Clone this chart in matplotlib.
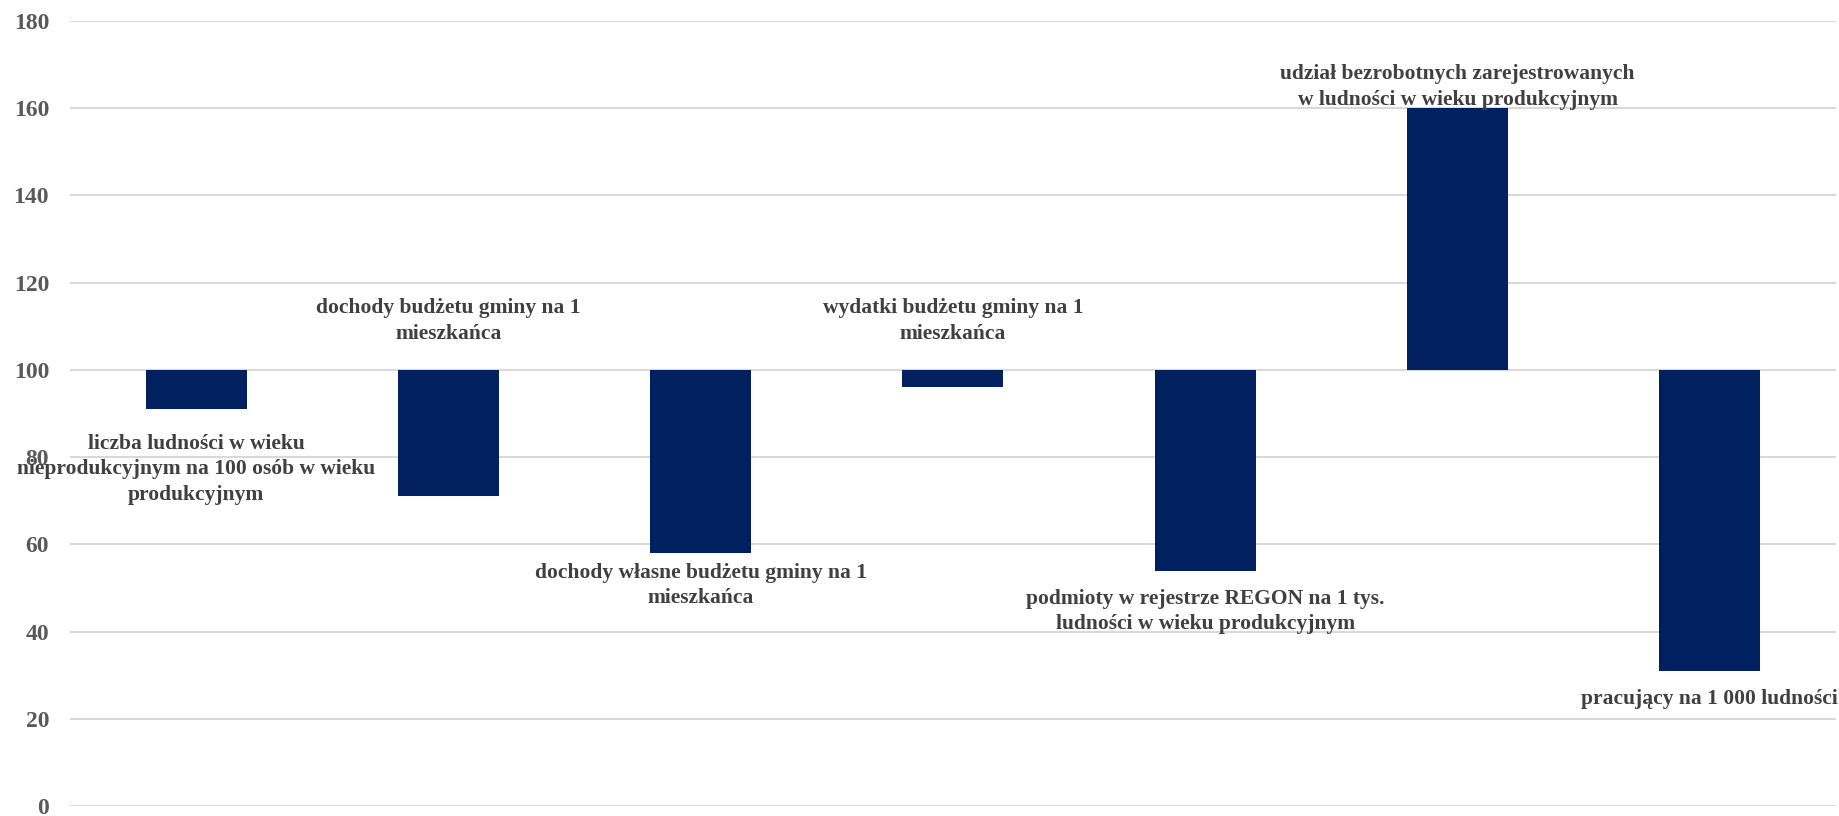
import matplotlib
matplotlib.use("Agg")
import matplotlib.pyplot as plt

# index values (base = 100)
categories = [
    "liczba ludności w wieku\nnieprodukcyjnym na 100 osób w wieku\nprodukcyjnym",
    "dochody budżetu gminy na 1\nmieszkańca",
    "dochody własne budżetu gminy na 1\nmieszkańca",
    "wydatki budżetu gminy na 1\nmieszkańca",
    "podmioty w rejestrze REGON na 1 tys.\nludności w wieku produkcyjnym",
    "udział bezrobotnych zarejestrowanych\nw ludności w wieku produkcyjnym",
    "pracujący na 1 000 ludności",
]
values = [91, 71, 58, 96, 54, 160, 31]
base = 100
y_ticks = [0, 20, 40, 60, 80, 100, 120, 140, 160, 180]

# where each label sits and how far (points) from the anchor
label_side = ["below", "above", "below", "above", "below", "above", "below"]
label_offset = [-18, 19, -7, 19, -13, -1, -13]

bar_color = "#002060"
text_color = "#404040"
font = "Liberation Serif"

fig = plt.figure(figsize=(18.4, 8.16), dpi=100)
ax = fig.add_axes([0.038, 0.01225, 0.9598, 0.962])

x = list(range(len(values)))
heights = [v - base for v in values]
ax.bar(x, heights, bottom=base, width=0.40, color=bar_color, zorder=3)

ax.set_xlim(-0.5, len(values) - 0.5)
ax.set_ylim(0, 180)
ax.set_yticks(y_ticks)
ax.set_xticks([])
ax.yaxis.grid(True, color="#d9d9d9", linewidth=1.5, zorder=0)
ax.set_axisbelow(True)
for s in ax.spines.values():
    s.set_visible(False)
ax.tick_params(axis="y", length=0, pad=15)
for lbl in ax.get_yticklabels():
    lbl.set_fontfamily(font)
    lbl.set_fontweight("bold")
    lbl.set_fontsize(17)
    lbl.set_color("#595959")

for i, (cat, v) in enumerate(zip(categories, values)):
    if label_side[i] == "above":
        anchor = max(v, base)
        va = "bottom"
    else:
        anchor = min(v, base)
        va = "top"
    ax.annotate(cat, xy=(i, anchor), xytext=(0, label_offset[i]),
                textcoords="offset points", ha="center", va=va,
                multialignment="center", fontfamily=font, fontweight="bold",
                fontsize=15.5, color=text_color, linespacing=1.35,
                annotation_clip=False, zorder=5)

fig.savefig("out.png", dpi=100)
